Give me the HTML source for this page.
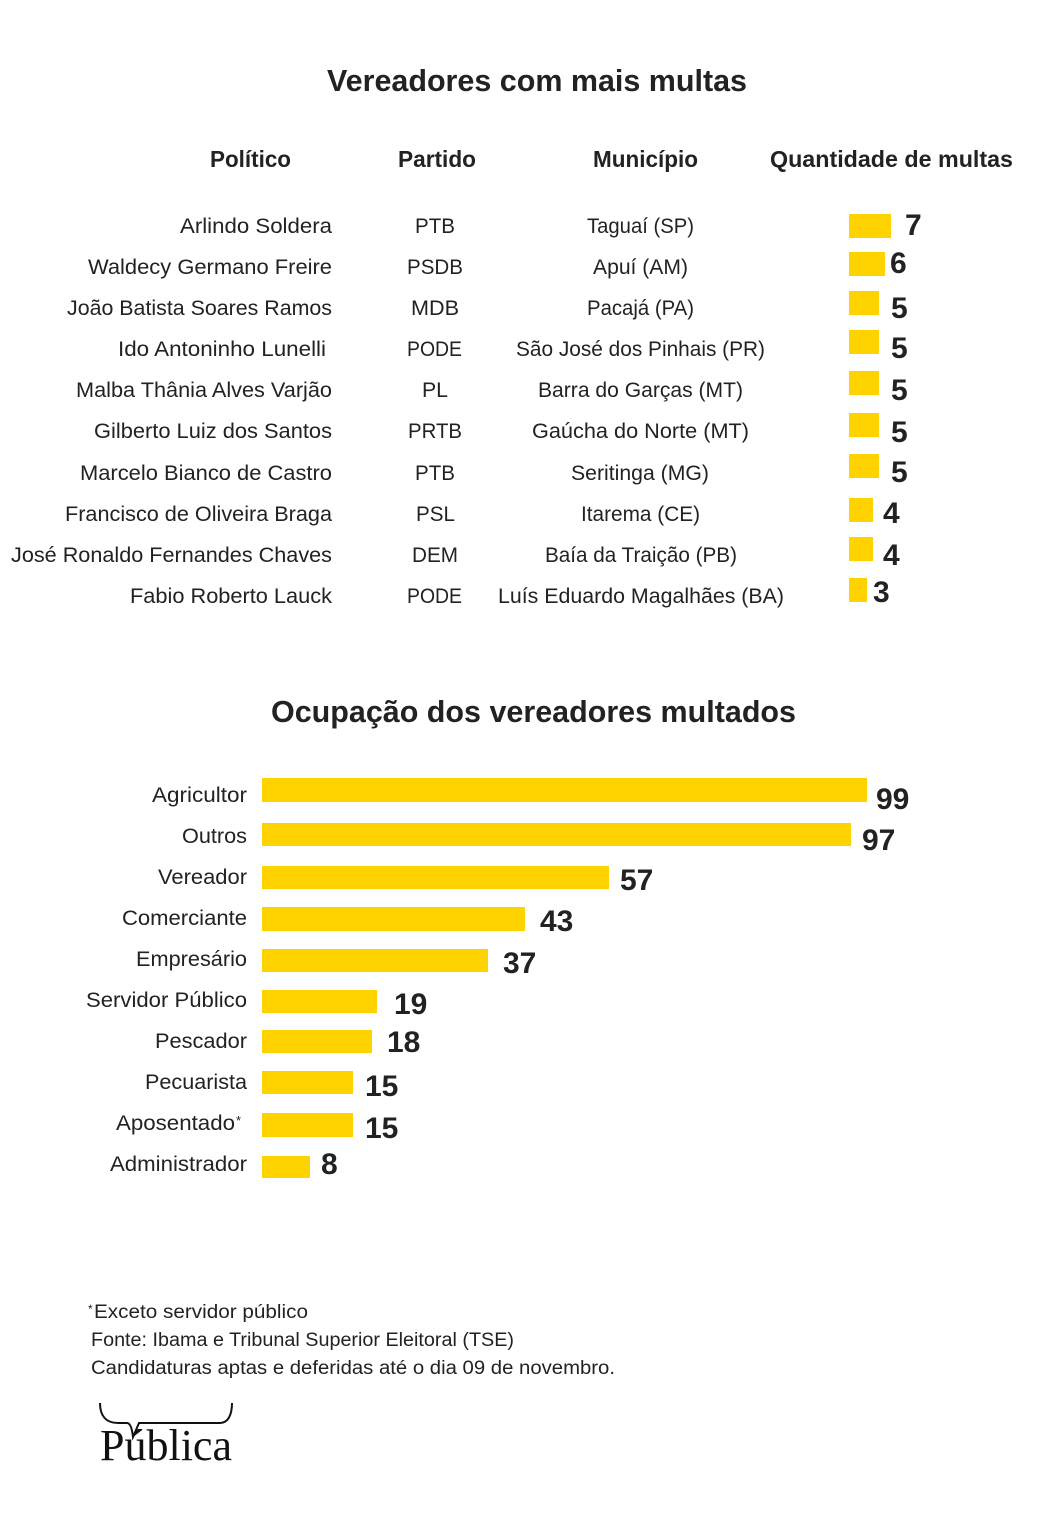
<!DOCTYPE html>
<html lang="pt">
<head>
<meta charset="utf-8">
<title>Vereadores com mais multas</title>
<style>
  html,body{margin:0;padding:0;background:#fff;}
  svg{display:block;}
  text{font-family:"Liberation Sans",Arial,sans-serif;fill:#222;}
  .t{font-size:31px;font-weight:bold;}
  .h{font-size:23px;font-weight:bold;}
  .r{font-size:21px;}
  .n{font-size:30px;font-weight:bold;}
  .f{font-size:19px;}
  .bar{fill:#FFD300;}
</style>
</head>
<body>
<svg width="1040" height="1536" viewBox="0 0 1040 1536" xmlns="http://www.w3.org/2000/svg">
  <rect width="1040" height="1536" fill="#fff"/>

  <!-- Title 1 -->
  <text class="t" x="327" y="91" textLength="420" lengthAdjust="spacingAndGlyphs">Vereadores com mais multas</text>

  <!-- Headers -->
  <text class="h" x="210" y="167" textLength="81" lengthAdjust="spacingAndGlyphs">Político</text>
  <text class="h" x="398" y="167" textLength="78" lengthAdjust="spacingAndGlyphs">Partido</text>
  <text class="h" x="593" y="167" textLength="105" lengthAdjust="spacingAndGlyphs">Município</text>
  <text class="h" x="770" y="167" textLength="243" lengthAdjust="spacingAndGlyphs">Quantidade de multas</text>

  <!-- Names (right aligned at 332) -->
  <text class="r" x="180" y="233" textLength="152" lengthAdjust="spacingAndGlyphs">Arlindo Soldera</text>
  <text class="r" x="88" y="274" textLength="244" lengthAdjust="spacingAndGlyphs">Waldecy Germano Freire</text>
  <text class="r" x="67" y="315" textLength="265" lengthAdjust="spacingAndGlyphs">João Batista Soares Ramos</text>
  <text class="r" x="118" y="356" textLength="208" lengthAdjust="spacingAndGlyphs">Ido Antoninho Lunelli</text>
  <text class="r" x="76" y="397" textLength="256" lengthAdjust="spacingAndGlyphs">Malba Thânia Alves Varjão</text>
  <text class="r" x="94" y="438" textLength="238" lengthAdjust="spacingAndGlyphs">Gilberto Luiz dos Santos</text>
  <text class="r" x="80" y="480" textLength="252" lengthAdjust="spacingAndGlyphs">Marcelo Bianco de Castro</text>
  <text class="r" x="65" y="521" textLength="267" lengthAdjust="spacingAndGlyphs">Francisco de Oliveira Braga</text>
  <text class="r" x="11" y="562" textLength="321" lengthAdjust="spacingAndGlyphs">José Ronaldo Fernandes Chaves</text>
  <text class="r" x="130" y="603" textLength="202" lengthAdjust="spacingAndGlyphs">Fabio Roberto Lauck</text>

  <!-- Parties -->
  <text class="r" x="415" y="233" textLength="40" lengthAdjust="spacingAndGlyphs">PTB</text>
  <text class="r" x="407" y="274" textLength="56" lengthAdjust="spacingAndGlyphs">PSDB</text>
  <text class="r" x="411" y="315" textLength="48" lengthAdjust="spacingAndGlyphs">MDB</text>
  <text class="r" x="407" y="356" textLength="55" lengthAdjust="spacingAndGlyphs">PODE</text>
  <text class="r" x="422" y="397" textLength="26" lengthAdjust="spacingAndGlyphs">PL</text>
  <text class="r" x="408" y="438" textLength="54" lengthAdjust="spacingAndGlyphs">PRTB</text>
  <text class="r" x="415" y="480" textLength="40" lengthAdjust="spacingAndGlyphs">PTB</text>
  <text class="r" x="416" y="521" textLength="39" lengthAdjust="spacingAndGlyphs">PSL</text>
  <text class="r" x="412" y="562" textLength="46" lengthAdjust="spacingAndGlyphs">DEM</text>
  <text class="r" x="407" y="603" textLength="55" lengthAdjust="spacingAndGlyphs">PODE</text>

  <!-- Municipalities -->
  <text class="r" x="587" y="233" textLength="107" lengthAdjust="spacingAndGlyphs">Taguaí (SP)</text>
  <text class="r" x="593" y="274" textLength="95" lengthAdjust="spacingAndGlyphs">Apuí (AM)</text>
  <text class="r" x="587" y="315" textLength="107" lengthAdjust="spacingAndGlyphs">Pacajá (PA)</text>
  <text class="r" x="516" y="356" textLength="249" lengthAdjust="spacingAndGlyphs">São José dos Pinhais (PR)</text>
  <text class="r" x="538" y="397" textLength="205" lengthAdjust="spacingAndGlyphs">Barra do Garças (MT)</text>
  <text class="r" x="532" y="438" textLength="217" lengthAdjust="spacingAndGlyphs">Gaúcha do Norte (MT)</text>
  <text class="r" x="571" y="480" textLength="138" lengthAdjust="spacingAndGlyphs">Seritinga (MG)</text>
  <text class="r" x="581" y="521" textLength="119" lengthAdjust="spacingAndGlyphs">Itarema (CE)</text>
  <text class="r" x="545" y="562" textLength="192" lengthAdjust="spacingAndGlyphs">Baía da Traição (PB)</text>
  <text class="r" x="498" y="603" textLength="286" lengthAdjust="spacingAndGlyphs">Luís Eduardo Magalhães (BA)</text>

  <!-- Top bars -->
  <rect class="bar" x="849" y="214" width="42" height="24"/>
  <rect class="bar" x="849" y="252" width="36" height="24"/>
  <rect class="bar" x="849" y="291" width="30" height="24"/>
  <rect class="bar" x="849" y="330" width="30" height="24"/>
  <rect class="bar" x="849" y="371" width="30" height="24"/>
  <rect class="bar" x="849" y="413" width="30" height="24"/>
  <rect class="bar" x="849" y="454" width="30" height="24"/>
  <rect class="bar" x="849" y="498" width="24" height="24"/>
  <rect class="bar" x="849" y="537" width="24" height="24"/>
  <rect class="bar" x="849" y="578" width="18" height="24"/>

  <!-- Top numbers -->
  <text class="n" x="905" y="235">7</text>
  <text class="n" x="890" y="273">6</text>
  <text class="n" x="891" y="318">5</text>
  <text class="n" x="891" y="358">5</text>
  <text class="n" x="891" y="400">5</text>
  <text class="n" x="891" y="442">5</text>
  <text class="n" x="891" y="482">5</text>
  <text class="n" x="883" y="523">4</text>
  <text class="n" x="883" y="565">4</text>
  <text class="n" x="873" y="602">3</text>

  <!-- Title 2 -->
  <text class="t" x="271" y="722" textLength="525" lengthAdjust="spacingAndGlyphs">Ocupação dos vereadores multados</text>

  <!-- Occupation labels (right aligned at 247) -->
  <text class="r" x="152" y="802" textLength="95" lengthAdjust="spacingAndGlyphs">Agricultor</text>
  <text class="r" x="182" y="843" textLength="65" lengthAdjust="spacingAndGlyphs">Outros</text>
  <text class="r" x="158" y="884" textLength="89" lengthAdjust="spacingAndGlyphs">Vereador</text>
  <text class="r" x="122" y="925" textLength="125" lengthAdjust="spacingAndGlyphs">Comerciante</text>
  <text class="r" x="136" y="966" textLength="111" lengthAdjust="spacingAndGlyphs">Empresário</text>
  <text class="r" x="86" y="1007" textLength="161" lengthAdjust="spacingAndGlyphs">Servidor Público</text>
  <text class="r" x="155" y="1048" textLength="92" lengthAdjust="spacingAndGlyphs">Pescador</text>
  <text class="r" x="145" y="1089" textLength="102" lengthAdjust="spacingAndGlyphs">Pecuarista</text>
  <text class="r" x="116" y="1130" textLength="119" lengthAdjust="spacingAndGlyphs">Aposentado</text>
  <text x="236" y="1125" style="font-size:13px;">*</text>
  <text class="r" x="110" y="1171" textLength="137" lengthAdjust="spacingAndGlyphs">Administrador</text>

  <!-- Occupation bars -->
  <rect class="bar" x="262" y="778" width="605" height="24"/>
  <rect class="bar" x="262" y="823" width="589" height="23"/>
  <rect class="bar" x="262" y="866" width="347" height="23"/>
  <rect class="bar" x="262" y="907" width="263" height="24"/>
  <rect class="bar" x="262" y="949" width="226" height="23"/>
  <rect class="bar" x="262" y="990" width="115" height="23"/>
  <rect class="bar" x="262" y="1030" width="110" height="23"/>
  <rect class="bar" x="262" y="1071" width="91" height="23"/>
  <rect class="bar" x="262" y="1113" width="91" height="24"/>
  <rect class="bar" x="262" y="1156" width="48" height="22"/>

  <!-- Occupation numbers -->
  <text class="n" x="876" y="809">99</text>
  <text class="n" x="862" y="850">97</text>
  <text class="n" x="620" y="890">57</text>
  <text class="n" x="540" y="931">43</text>
  <text class="n" x="503" y="973">37</text>
  <text class="n" x="394" y="1014">19</text>
  <text class="n" x="387" y="1052">18</text>
  <text class="n" x="365" y="1096">15</text>
  <text class="n" x="365" y="1138">15</text>
  <text class="n" x="321" y="1174">8</text>

  <!-- Footer -->
  <text x="88" y="1313" style="font-size:12px;">*</text>
  <text class="f" x="94" y="1318" textLength="214" lengthAdjust="spacingAndGlyphs">Exceto servidor público</text>
  <text class="f" x="91" y="1346" textLength="423" lengthAdjust="spacingAndGlyphs">Fonte: Ibama e Tribunal Superior Eleitoral (TSE)</text>
  <text class="f" x="91" y="1374" textLength="524" lengthAdjust="spacingAndGlyphs">Candidaturas aptas e deferidas até o dia 09 de novembro.</text>

  <!-- Logo -->
  <path d="M100,1403 C100,1416 106,1423 118,1423 L127,1423 C130,1423 132,1428 133,1437 L139,1423 L220,1423 C228,1423 232,1415 232,1403" fill="none" stroke="#111" stroke-width="2"/>
  <text x="100" y="1460" textLength="132" lengthAdjust="spacingAndGlyphs" style="font-family:'Liberation Serif','Times New Roman',serif;font-size:44px;fill:#111;">Pública</text>
</svg>
</body>
</html>
